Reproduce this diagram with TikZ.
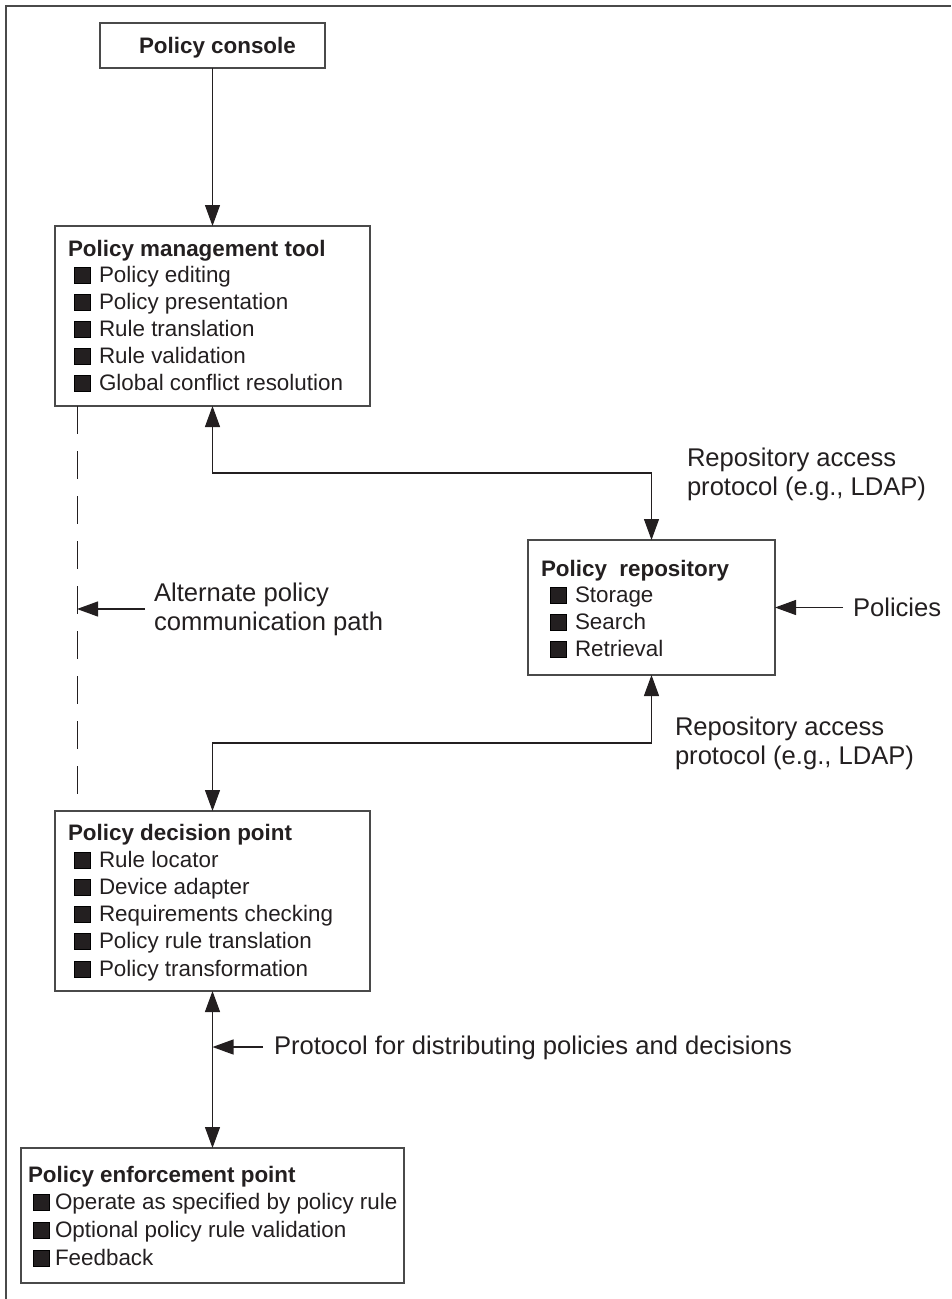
\documentclass[tikz,border=0pt]{standalone}
\usepackage{fontspec}
\setmainfont{Liberation Sans}
\usetikzlibrary{arrows.meta}
\definecolor{ink}{HTML}{231F20}
\definecolor{edge}{HTML}{4A4A4A}
\begin{document}
\begin{tikzpicture}[x=1pt, y=-1pt,
  box/.style={draw=edge, line width=1.4pt, rectangle, inner sep=0pt, outer sep=0pt},
  txt/.style={anchor=base west, inner sep=0pt, outer sep=0pt, text=ink,
              font=\fontsize{22.4pt}{27pt}\selectfont},
  ttl/.style={txt, font=\fontsize{22.4pt}{27pt}\selectfont\bfseries},
  lbl/.style={txt, font=\fontsize{25.6pt}{29pt}\selectfont},
  bulletsq/.style={draw=black, fill=ink, line width=0.9pt},
  link/.style={draw=ink, line width=1.2pt},
  tip/.style={-{Triangle[length=21pt, width=15pt]}},
  tips/.style={{Triangle[length=21pt, width=15pt]}-{Triangle[length=21pt, width=15pt]}}]
\useasboundingbox (0,0) rectangle (951,1299);

% outer frame (top and left edges)
\draw[edge, line width=2pt] (5.5,1299) -- (5.5,6) -- (951,6);

% boxes
\node[box, minimum width=225pt, minimum height=45pt]  (console) at (212.5,45.5)  {};
\node[box, minimum width=315pt, minimum height=180pt] (pmt)     at (212.5,316)   {};
\node[box, minimum width=247pt, minimum height=135pt] (repo)    at (651.5,607.5) {};
\node[box, minimum width=315pt, minimum height=180pt] (pdp)     at (212.5,901)   {};
\node[box, minimum width=383pt, minimum height=135pt] (pep)     at (212.5,1215.5){};

% box contents
\node[ttl] (consoleT) at (139,53) {Policy console};

\node[ttl] (pmtT) at (68,256) {Policy management tool};
\foreach \t [count=\i] in {Policy editing, Policy presentation, Rule translation,
                          Rule validation, Global conflict resolution} {
  \draw[bulletsq] (74,{256+26.9*\i-15}) rectangle (90,{256+26.9*\i+1});
  \node[txt] (pmt-\i) at (99,{256+26.9*\i}) {\t};
}

\node[ttl] (repoT) at (541,576) {Policy\ \ repository};
\foreach \t [count=\i] in {Storage, Search, Retrieval} {
  \draw[bulletsq] (550,{576+26.9*\i-15}) rectangle (566,{576+26.9*\i+1});
  \node[txt] (repo-\i) at (575,{576+26.9*\i}) {\t};
}

\node[ttl] (pdpT) at (68,840) {Policy decision point};
\foreach \t [count=\i] in {Rule locator, Device adapter, Requirements checking,
                          Policy rule translation, Policy transformation} {
  \draw[bulletsq] (74,{840+27.2*\i-15}) rectangle (90,{840+27.2*\i+1});
  \node[txt] (pdp-\i) at (99,{840+27.2*\i}) {\t};
}

\node[ttl] (pepT) at (28,1182) {Policy enforcement point};
\foreach \t [count=\i] in {Operate as specified by policy rule,
                          Optional policy rule validation, Feedback} {
  \draw[bulletsq] (33,{1182+27.7*\i-15}) rectangle (49,{1182+27.7*\i+1});
  \node[txt] (pep-\i) at (55,{1182+27.7*\i}) {\t};
}

% free-standing labels
\node[lbl] (racc1) at (687,466) {Repository access};
\node[lbl] (racc2) at (687,495) {protocol (e.g., LDAP)};
\node[lbl] (racc3) at (675,735) {Repository access};
\node[lbl] (racc4) at (675,764) {protocol (e.g., LDAP)};
\node[lbl] (policies) at (853,616) {Policies};
\node[lbl] (alt1) at (154,601) {Alternate policy};
\node[lbl] (alt2) at (154,630) {communication path};
\node[lbl] (proto) at (274,1054) {Protocol for distributing policies and decisions};

% connectors
\draw[link, tip] (console) -- (pmt);
\coordinate (up1) at (651.5,473);
\draw[link, tips] (pmt.south) |- (up1) -- (repo.north);
\coordinate (dn1) at (651.5,743);
\draw[link, tips] (repo.south) -- (dn1) -| (pdp.north);
\draw[link, tips] (pdp.south) -- (pep.north);

% dashed alternate path
\coordinate (altTop) at (77,406);
\coordinate (altBot) at (77,796);
\draw[link, line width=1pt, dash pattern=on 28pt off 17pt] (altTop) -- (altBot);

% label pointers
\coordinate (polFrom) at (843,607.5);
\draw[link, tip] (polFrom) -- (repo.east);
\coordinate (altFrom) at (145,609);
\coordinate (altTo) at (77,609);
\draw[link, tip] (altFrom) -- (altTo);
\coordinate (protoFrom) at (263,1047);
\coordinate (protoTo) at (212.5,1047);
\draw[link, tip] (protoFrom) -- (protoTo);
\end{tikzpicture}
\end{document}
